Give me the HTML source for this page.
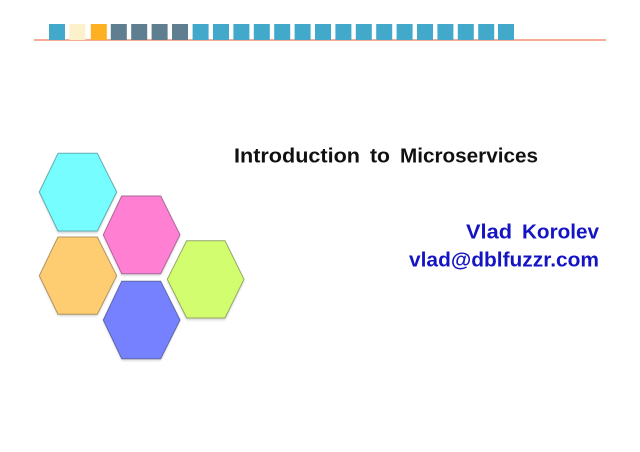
<!DOCTYPE html>
<html>
<head>
<meta charset="utf-8">
<style>
html,body{margin:0;padding:0;background:#fff;width:640px;height:452px;overflow:hidden}
svg{display:block}
text{font-family:"Liberation Sans",sans-serif;font-weight:bold}
</style>
</head>
<body>
<svg width="640" height="452" viewBox="0 0 640 452" xmlns="http://www.w3.org/2000/svg">
<defs>
<filter id="b" x="-5%" y="-5%" width="110%" height="115%"><feGaussianBlur stdDeviation="1.2"/></filter>
</defs>
<line x1="34" y1="40" x2="606" y2="40" stroke="#ee9070" stroke-width="1.4"/>
<g>
<rect x="49" y="24" width="16" height="16" fill="#42a9cb"/>
<rect x="69.4" y="24" width="16" height="16" fill="#fdf1cc"/>
<rect x="90.8" y="24" width="16" height="16" fill="#fdb022"/>
<rect x="110.8" y="24" width="16" height="16" fill="#5f7e8f"/>
<rect x="131.2" y="24" width="16" height="16" fill="#5f7e8f"/>
<rect x="151.6" y="24" width="16" height="16" fill="#5f7e8f"/>
<rect x="172" y="24" width="16" height="16" fill="#5f7e8f"/>
<rect x="192.6" y="24" width="16" height="16" fill="#42a9cb"/>
<rect x="213" y="24" width="16" height="16" fill="#42a9cb"/>
<rect x="233.4" y="24" width="16" height="16" fill="#42a9cb"/>
<rect x="253.8" y="24" width="16" height="16" fill="#42a9cb"/>
<rect x="274.2" y="24" width="16" height="16" fill="#42a9cb"/>
<rect x="294.6" y="24" width="16" height="16" fill="#42a9cb"/>
<rect x="315" y="24" width="16" height="16" fill="#42a9cb"/>
<rect x="335.4" y="24" width="16" height="16" fill="#42a9cb"/>
<rect x="355.8" y="24" width="16" height="16" fill="#42a9cb"/>
<rect x="376.2" y="24" width="16" height="16" fill="#42a9cb"/>
<rect x="396.6" y="24" width="16" height="16" fill="#42a9cb"/>
<rect x="417" y="24" width="16" height="16" fill="#42a9cb"/>
<rect x="437.4" y="24" width="16" height="16" fill="#42a9cb"/>
<rect x="457.8" y="24" width="16" height="16" fill="#42a9cb"/>
<rect x="478.2" y="24" width="16" height="16" fill="#42a9cb"/>
<rect x="498" y="24" width="16" height="16" fill="#42a9cb"/>
</g>
<g fill="#000" opacity=".18" filter="url(#b)">
<polygon points="58,155 97.3,155 116.7,193 97.3,233 58,233 39.3,193"/>
<polygon points="58,239 97.3,239 116.7,277 97.3,316 58,316 39.3,277"/>
<polygon points="121.7,198 160.7,198 180,236 160.7,275.5 121.7,275.5 103.3,236"/>
<polygon points="186.7,242.5 225,242.5 244,281 225,320 186.7,320 167.3,281"/>
<polygon points="121.7,283 160.7,283 180,321 160.7,360.5 121.7,360.5 103.3,321"/>
</g>
<g stroke-width="1" stroke-linejoin="round">
<polygon points="58,153.3 97.3,153.3 116.7,192 97.3,231 58,231 39.3,192" fill="#75fdff" stroke="#62aeb0"/>
<polygon points="58,237 97.3,237 116.7,275.7 97.3,314.3 58,314.3 39.3,275.7" fill="#fecd72" stroke="#b0955f"/>
<polygon points="121.7,196 160.7,196 180,234.8 160.7,273.7 121.7,273.7 103.3,234.8" fill="#ff7fd2" stroke="#a9689a"/>
<polygon points="186.7,240.7 225,240.7 244,279.3 225,318 186.7,318 167.3,279.3" fill="#d2fd6f" stroke="#94a867"/>
<polygon points="121.7,281.3 160.7,281.3 180,320 160.7,358.7 121.7,358.7 103.3,320" fill="#7581ff" stroke="#6068a8"/>
</g>
<text x="234" y="162.3" font-size="20" fill="#111" textLength="126" lengthAdjust="spacingAndGlyphs">Introduction</text>
<text x="370" y="162.3" font-size="20" fill="#111" textLength="20" lengthAdjust="spacingAndGlyphs">to</text>
<text x="400" y="162.3" font-size="20" fill="#111" textLength="138" lengthAdjust="spacingAndGlyphs">Microservices</text>
<text x="466" y="238.3" font-size="20.5" fill="#1414c4" textLength="46" lengthAdjust="spacingAndGlyphs">Vlad</text>
<text x="522" y="238.3" font-size="20.5" fill="#1414c4" textLength="77" lengthAdjust="spacingAndGlyphs">Korolev</text>
<text x="409" y="266.7" font-size="20.5" fill="#1414c4" textLength="190" lengthAdjust="spacingAndGlyphs">vlad@dblfuzzr.com</text>
</svg>
</body>
</html>
